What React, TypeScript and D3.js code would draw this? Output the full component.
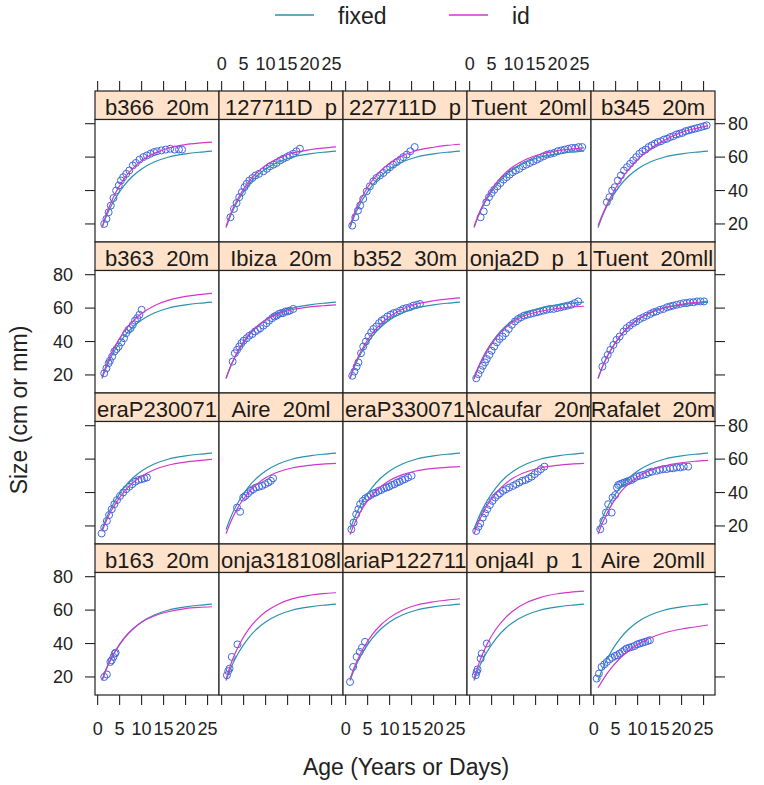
import React from "react";
import * as d3 from "d3";

const W = 764;
const H = 785;
const FONT = "'Liberation Sans', Arial, Helvetica, sans-serif";

const panelNames = [
  "b366  20m", "127711D  p", "227711D  p", "Tuent  20ml", "b345  20m",
  "b363  20m", "Ibiza  20m", "b352  30m", "onja2D  p  1", "Tuent  20mll",
  "eraP230071", "Aire  20ml", "eraP330071", "Alcaufar  20m", "Rafalet  20m",
  "b163  20m", "onja318108l", "ariaP122711", "onja4l  p  1", "Aire  20mll",
];

const ages = [1, 2, 3, 4, 6, 8, 10, 13, 16, 20, 23, 26];

const fixedSize = [17.8, 24.8, 30.4, 35.2, 43.0, 48.7, 52.9, 57.2, 59.9, 61.9, 62.9, 63.6];

const idSize = [
  [18, 26, 32.6, 38.2, 47, 53.3, 57.9, 62.4, 65.3, 67.5, 68.4, 69],
  [18.5, 25.8, 31.6, 36.6, 44.7, 50.6, 55.0, 59.5, 62.3, 64.4, 65.4, 66.1],
  [19.0, 26.4, 32.4, 37.5, 45.8, 51.9, 56.3, 60.9, 63.8, 65.9, 67.0, 67.7],
  [18.3, 25.5, 31.3, 36.3, 44.3, 50.2, 54.5, 58.9, 61.7, 63.8, 64.8, 65.5],
  [19.0, 25.6, 31.5, 36.7, 45.7, 52.8, 58.6, 65.2, 69.9, 74.8, 77.0, 78.8],
  [18.9, 26.0, 32.2, 37.4, 45.9, 52.1, 56.8, 61.6, 64.6, 67.0, 68.1, 68.8],
  [18.0, 25.0, 30.8, 35.8, 43.5, 49.0, 52.9, 56.7, 59.0, 60.7, 61.4, 61.9],
  [18.5, 25.8, 31.6, 36.6, 44.7, 50.6, 55.0, 59.5, 62.3, 64.4, 65.4, 66.1],
  [17.5, 24.5, 30, 35, 42.5, 48, 52, 56, 58, 59.8, 60.6, 61.1],
  [18, 25, 30.7, 35.5, 43.3, 49, 53.2, 57.5, 60.2, 62.3, 63.4, 64.1],
  [16.7, 23.3, 28.6, 33.1, 40.4, 45.8, 49.7, 53.8, 56.3, 58.2, 59.1, 59.8],
  [15.3, 22.0, 27.6, 32.4, 39.7, 45.0, 48.8, 52.4, 54.7, 56.3, 57.0, 57.4],
  [14.8, 21.3, 26.7, 31.3, 38.4, 43.5, 47.2, 50.7, 52.9, 54.4, 55.1, 55.5],
  [15.3, 22.0, 27.6, 32.4, 39.7, 45.0, 48.8, 52.4, 54.7, 56.3, 57.0, 57.4],
  [15.0, 21.7, 27.3, 32.2, 39.8, 45.3, 49.3, 53.4, 55.9, 57.8, 58.7, 59.2],
  [18.2, 25.2, 30.8, 35.5, 43.2, 48.7, 52.7, 56.6, 59.0, 60.9, 61.6, 62.0],
  [18.5, 27, 33.7, 39.3, 48, 54.3, 59, 63.7, 66.7, 68.9, 69.9, 70.4],
  [18.7, 26.0, 31.9, 37.0, 45.2, 51.1, 55.5, 60.1, 62.9, 65.0, 66.0, 66.8],
  [19, 27.2, 34, 39.8, 48.7, 55.1, 59.8, 64.5, 67.5, 69.8, 70.7, 71.3],
  [13.5, 17.8, 21.8, 25.3, 31.2, 35.8, 39.4, 43.5, 46.3, 48.7, 49.9, 51.1],
];

const observed: number[][][] = [
  [[1.5,20],[2,23],[2.5,27],[3,31],[3.6,35.5],[4.2,40],[4.8,43],[5.3,46],[5.8,48],[6.5,50],[7.2,52],[8,55],[8.7,56.5],[9.5,58.5],[10.4,60],[11.2,61],[12,62],[12.8,63],[13.5,63.5],[14.5,64],[15.5,64.5],[16.5,65],[17.5,64.5],[18.5,64.5],[19.2,64.5]],
  [[2,24],[2.8,29],[3.4,32.5],[4,36],[4.6,39],[5.2,42],[5.7,44],[6.3,46],[7,47.5],[7.7,49],[8.5,50],[9.5,51.5],[10.3,53],[11,54.5],[11.8,55.5],[12.5,56.5],[13.3,58],[14,59],[14.8,60],[15.5,61],[16.3,62],[17,63.5],[17.8,65]],
  [[1.5,19],[2.2,24],[2.8,28],[3.3,31],[4,35],[4.8,39.5],[5.5,42.5],[6.3,45.5],[7,47.5],[7.8,49],[8.6,50.5],[9.4,52.5],[10.1,54],[10.8,55.5],[11.6,57],[12.4,58.5],[13.1,60],[13.9,61.5],[14.7,63.5],[15.7,66]],
  [[2.5,24],[3.2,27.5],[3.8,33],[4.4,36],[5,38.5],[5.6,40.5],[6.3,42.5],[7,44.5],[7.7,46.5],[8.4,48],[9.1,49.5],[9.8,51],[10.5,52],[11.3,53],[12.1,54.5],[12.9,55.5],[13.7,56.5],[14.5,57.5],[15.3,58.5],[16,59.5],[16.8,60.5],[17.6,61.5],[18.4,62],[19.2,62.5],[20,63.5],[20.8,64],[21.6,64.5],[22.4,65],[23.2,65.5],[24,65.5],[24.8,66],[25.6,66]],
  [[3,33],[3.6,36],[4.2,40],[4.8,42],[5.5,46],[6.2,49],[6.9,52],[7.6,54],[8.3,56],[9,58],[9.7,60],[10.4,62],[11.1,63.5],[11.8,64.5],[12.5,66],[13.2,67],[13.9,68],[14.6,69],[15.3,69.5],[16,70.5],[16.7,71],[17.4,72],[18.1,72.5],[18.8,73.5],[19.5,74],[20.2,74.5],[20.9,75.5],[21.6,76],[22.3,76.5],[23,77],[23.7,77.5],[24.4,78],[25.1,78.5],[25.7,79]],
  [[1.5,21],[2,24],[2.5,27],[2.8,28.5],[3.3,31],[3.8,34],[4.3,35.5],[4.8,37],[5.4,39.5],[6,42],[6.5,45],[7,47],[7.5,48],[8,50],[8.5,52.5],[9,54],[9.5,56],[10,59]],
  [[2.5,28],[3,33],[3.5,35],[4,37],[4.5,39],[5,40.5],[5.7,42],[6.3,43.5],[7,44.5],[7.6,46],[8.2,47],[8.8,48],[9.5,49.5],[10.2,51],[10.8,52.5],[11.5,54],[12,55],[12.5,55.5],[13,56.5],[13.5,57],[14,57],[14.5,58],[15,58],[15.5,58.5],[16.3,59.5]],
  [[1.5,19.5],[2,22],[2.5,25],[2.9,27.5],[3.5,33],[4,37],[4.6,40],[5.2,43],[5.8,45.5],[6.3,47.5],[7,49],[7.6,51],[8.2,52.5],[8.8,53.5],[9.5,55],[10.2,56],[10.9,57],[11.6,57.5],[12.4,58.5],[13.1,59.5],[13.8,60],[14.6,60.5],[15.4,61.5],[16.2,62],[16.9,62.5]],
  [[1.5,18],[2,20.5],[2.5,23],[3,25.5],[3.5,27.5],[3.9,29.5],[4.5,32],[5,34.5],[5.6,37],[6.2,39.5],[6.8,41.5],[7.5,43],[8.2,45],[8.9,47.5],[9.6,50],[10.3,52],[11,53.5],[11.7,54.5],[12.4,55.5],[13.1,56],[13.8,56.5],[14.5,57],[15.3,57.5],[16,58],[16.8,58.5],[17.5,59],[18.3,59.5],[19.1,59.5],[19.9,60],[20.7,60.5],[21.5,61],[22.3,61.5],[23.1,62],[23.9,63],[24.7,64]],
  [[2,25],[2.6,29],[3.2,32],[3.8,35],[4.5,38],[5.2,41],[5.9,43],[6.8,46],[7.5,48],[8.2,49.5],[9,51],[9.7,52],[10.5,53.5],[11.3,54.5],[12.1,55.5],[12.9,56.5],[13.6,57.5],[14.3,58],[15.1,59],[15.9,59.5],[16.7,60.5],[17.4,61],[18.1,61.5],[18.9,62],[19.7,62.5],[20.5,63],[21.2,63],[21.9,63.5],[22.7,63.5],[23.5,64],[24.3,64],[25.1,64]],
  [[0.9,15.5],[1.5,19],[2.1,23],[2.6,26.5],[3.2,30],[3.8,33],[4.4,35.5],[5.1,38],[5.8,40],[6.5,42],[7.2,43.5],[7.9,45],[8.6,46.5],[9.3,47.5],[10,48],[10.6,48.5],[11.2,49]],
  [[3.5,31],[4.2,28.5],[4.9,37],[5.4,38],[6,39.5],[6.6,41],[7.2,42],[7.8,43],[8.5,43.5],[9.2,44],[9.9,45],[10.6,46],[11.2,47],[11.7,48.5]],
  [[1.3,18],[1.8,22],[2.4,27],[2.9,30],[3.3,33],[3.9,35],[4.5,36.5],[5.1,37.5],[5.7,38.5],[6.3,39.5],[6.9,40],[7.5,41],[8.1,41.5],[8.7,42.5],[9.3,43],[9.9,43.5],[10.5,44.5],[11.1,45],[11.7,46],[12.3,46.5],[12.9,47.5],[13.5,48],[14.2,49],[15,50]],
  [[1.5,17],[2,19.5],[2.4,21.5],[3,25],[3.5,27.5],[4,30],[4.6,32.5],[5.2,35],[5.8,37],[6.4,38.5],[6.9,39.5],[7.6,41],[8.3,42],[9,43],[9.9,44],[10.6,45],[11.3,46],[12,47],[12.7,47.5],[13.4,48.5],[14.1,49.5],[14.8,51],[15.5,52.5],[16.2,54],[17,55.5]],
  [[1.5,18],[2.2,23],[2.8,28],[3.3,33],[4.1,28],[4.3,37],[4.9,38.5],[5.3,43],[5.6,44.5],[6,45],[6.5,45.5],[7,46],[7.5,46.5],[8,47],[8.6,47.5],[9.2,48.5],[9.8,49.5],[10.5,50],[11.2,50.5],[11.9,51],[12.6,52],[13.3,52.5],[14.3,53],[15,53.5],[15.8,54],[16.6,54],[17.4,54.5],[18.1,54.5],[18.9,55],[19.7,55],[20.5,55.5],[21.5,55.5]],
  [[1.5,20],[2.1,21.5],[2.9,29],[3.2,30],[3.6,32],[3.9,34],[4.1,34.5]],
  [[1.2,21],[1.5,23.5],[1.8,25],[2.3,32],[3.6,39.5]],
  [[1,17],[1.7,26],[2.5,32],[3.2,35],[3.7,37.5],[4.4,41]],
  [[1.4,21],[1.6,23],[1.8,24.5],[2.5,31],[2.75,34],[3.9,40]],
  [[0.7,19],[1.2,22],[1.8,26],[2.4,27.5],[3,29],[3.6,30.5],[4.2,31.5],[4.8,32.5],[5.3,33],[5.9,34],[6.5,35],[7,36],[7.5,37],[8.1,37.5],[8.7,38],[9.3,38.5],[9.9,39.5],[10.5,40],[11.1,40.5],[11.7,41],[12.3,41.5],[12.8,42]],
];

const xTicks = [0, 5, 10, 15, 20, 25];
const yTicks = [20, 40, 60, 80];
const seriesNames = ["fixed", "id"];
const seriesColors = ["#2a90ad", "#d236cc"];
const pointColor = "#3f66e0";
const xTitle = "Age (Years or Days)";
const yTitle = "Size (cm or mm)";

export default function App() {
  const nCol = 5;
  const nRow = 4;
  const left = 95;
  const top = 91;
  const pw = 124;
  const sh = 28.5;
  const ph = 122.5;
  const rowH = sh + ph;
  const ink = "#222";

  const x = d3.scaleLinear().domain([-0.6, 27.6]).range([0, pw]);
  const y = d3.scaleLinear().domain([9.2, 82.5]).range([ph, 0]);
  const line = d3
    .line<number>()
    .x((_, i) => x(ages[i]))
    .y((d) => y(d))
    .curve(d3.curveMonotoneX);

  const panels = panelNames.map((name, i) => {
    const r = Math.floor(i / nCol);
    const c = i % nCol;
    const px = left + c * pw;
    const stripTop = top + r * rowH;
    const py = stripTop + sh;
    return (
      <g key={i}>
        <clipPath id={`strip${i}`}>
          <rect x={px} y={stripTop} width={pw} height={sh} />
        </clipPath>
        <rect x={px} y={stripTop} width={pw} height={sh} fill="#ffe2c9" />
        <text
          x={px + pw / 2}
          y={stripTop + 24}
          textAnchor="middle"
          fontSize={22}
          fill="#1a1a1a"
          clipPath={`url(#strip${i})`}
          xmlSpace="preserve"
          style={{ whiteSpace: "pre" }}
        >
          {name}
        </text>
        <rect x={px} y={stripTop} width={pw} height={sh} fill="none" stroke={ink} strokeWidth={1.2} />
        <g transform={`translate(${px},${py})`}>
          <rect x={0} y={0} width={pw} height={ph} fill="#fff" />
          {observed[i].map((p, k) => (
            <circle key={k} cx={x(p[0])} cy={y(p[1])} r={3.5} fill="none" stroke={pointColor} strokeWidth={1} />
          ))}
          <path d={line(fixedSize) || ""} fill="none" stroke={seriesColors[0]} strokeWidth={1.2} />
          <path d={line(idSize[i]) || ""} fill="none" stroke={seriesColors[1]} strokeWidth={1.2} />
          <rect x={0} y={0} width={pw} height={ph} fill="none" stroke={ink} strokeWidth={1.2} />
        </g>
      </g>
    );
  });

  const axes: React.ReactNode[] = [];
  const bottomY = top + nRow * rowH;
  for (let c = 0; c < nCol; c++) {
    const px = left + c * pw;
    xTicks.forEach((t) => {
      const tx = px + x(t);
      axes.push(<line key={`tt${c}-${t}`} x1={tx} x2={tx} y1={top - 10} y2={top} stroke={ink} strokeWidth={1.1} />);
      axes.push(<line key={`bt${c}-${t}`} x1={tx} x2={tx} y1={bottomY} y2={bottomY + 10} stroke={ink} strokeWidth={1.1} />);
      if (c % 2 === 1) {
        axes.push(
          <text key={`tl${c}-${t}`} x={tx} y={top - 21.5} textAnchor="middle" fontSize={18} fill={ink}>
            {t}
          </text>
        );
      } else {
        axes.push(
          <text key={`bl${c}-${t}`} x={tx} y={bottomY + 40} textAnchor="middle" fontSize={18} fill={ink}>
            {t}
          </text>
        );
      }
    });
  }
  const rightX = left + nCol * pw;
  for (let r = 0; r < nRow; r++) {
    const py = top + r * rowH + sh;
    yTicks.forEach((v) => {
      const ty = py + y(v);
      axes.push(<line key={`lt${r}-${v}`} x1={left - 10} x2={left} y1={ty} y2={ty} stroke={ink} strokeWidth={1.1} />);
      axes.push(<line key={`rt${r}-${v}`} x1={rightX} x2={rightX + 10} y1={ty} y2={ty} stroke={ink} strokeWidth={1.1} />);
      if (r % 2 === 1) {
        axes.push(
          <text key={`ll${r}-${v}`} x={left - 22} y={ty} textAnchor="end" dominantBaseline="central" fontSize={18} fill={ink}>
            {v}
          </text>
        );
      } else {
        axes.push(
          <text key={`rl${r}-${v}`} x={rightX + 13} y={ty} textAnchor="start" dominantBaseline="central" fontSize={18} fill={ink}>
            {v}
          </text>
        );
      }
    });
  }

  const legendX = [275, 449];
  const legend = seriesNames.map((s, i) => (
    <g key={s}>
      <line x1={legendX[i]} x2={legendX[i] + 39} y1={15} y2={15} stroke={seriesColors[i]} strokeWidth={1.4} />
      <text x={legendX[i] + 63} y={23.5} fontSize={23} fill={ink}>
        {s}
      </text>
    </g>
  ));

  return (
    <svg
      width={W}
      height={H}
      viewBox={`0 0 ${W} ${H}`}
      style={{ position: "absolute", left: 0, top: 0, background: "#fff", fontFamily: FONT }}
    >
      <rect x={0} y={0} width={W} height={H} fill="#fff" />
      {legend}
      {panels}
      {axes}
      <text x={left + (nCol * pw) / 2 + 1} y={775} textAnchor="middle" fontSize={23} fill={ink}>
        {xTitle}
      </text>
      <text transform="translate(27,410) rotate(-90)" textAnchor="middle" fontSize={23} fill={ink}>
        {yTitle}
      </text>
    </svg>
  );
}
